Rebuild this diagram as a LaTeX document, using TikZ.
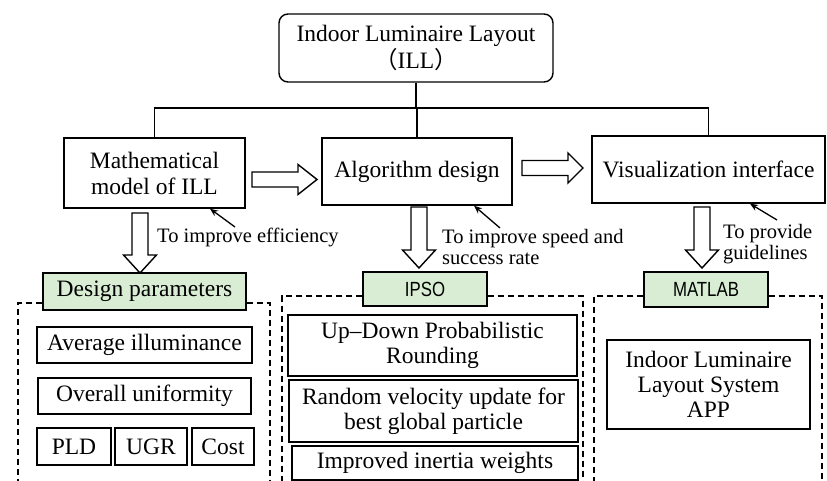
\documentclass[tikz,border=0pt]{standalone}
\usepackage{fontspec}
\setmainfont{Liberation Serif}
\newfontfamily\narrowsans[FakeStretch=0.82]{Liberation Sans}
\newfontfamily\cjkfont{Noto Sans CJK SC}
\usetikzlibrary{arrows.meta,calc}
\definecolor{paleGreen}{RGB}{217,237,212}
\newcommand\blockRight[4]{% x0, xhead, xtip, y
  \draw[blockarrow] (#1,#4-7.5) -- (#2,#4-7.5) -- (#2,#4-15) -- (#3,#4) -- (#2,#4+15) -- (#2,#4+7.5) -- (#1,#4+7.5) -- cycle;}
\newcommand\blockDown[4]{% cx, y0, yhead, ytip
  \draw[blockarrow] (#1-8,#2) -- (#1+8,#2) -- (#1+8,#3) -- (#1+16.5,#3) -- (#1,#4) -- (#1-16.5,#3) -- (#1-8,#3) -- cycle;}
\begin{document}
\begin{tikzpicture}[x=1pt,y=-1pt,
  box/.style={draw,line width=1.4pt,inner sep=0pt,align=center,
    font=\fontsize{23.5}{25}\selectfont},
  greenbox/.style={draw,fill=paleGreen,line width=1.4pt,inner sep=0pt,align=center},
  frameline/.style={dash pattern=on 6pt off 4pt,line width=1.2pt},
  blockarrow/.style={draw,fill=white,line width=1.4pt,line join=miter},
  note/.style={font=\fontsize{20.5}{21.5}\selectfont,inner sep=0pt,align=left,anchor=west},
  pointer/.style={-{Stealth[length=8pt,width=6.5pt]},line width=1.3pt},
  conn/.style={line width=1.3pt}
]
\useasboundingbox (0,0) rectangle (827,481);

% top
\node[box,rounded corners=9pt,minimum width=274pt,minimum height=68pt,
  font=\fontsize{23.5}{27}\selectfont] (top) at (416,48)
  {Indoor Luminaire Layout\\{\cjkfont （}ILL{\cjkfont ）}};

% second level
\node[box,minimum width=181pt,minimum height=70pt,font=\fontsize{23.5}{26}\selectfont] (math) at (154.5,173) {Mathematical\\model of ILL};
\node[box,minimum width=190pt,minimum height=67pt] (algo) at (417,171.5) {Algorithm design};
\node[box,minimum width=233pt,minimum height=67pt] (vis) at (708.5,169.5) {Visualization interface};

\coordinate (junc) at (416,108);
\draw[conn] (top.south) -- (junc);
\draw[conn] (math.north) -- (math.north |- junc) -- (vis.north |- junc) -- (vis.north);
\draw[conn] (algo.north) -- (algo.north |- junc);

% block arrows
\blockRight{252}{298}{317}{179.5}
\blockRight{522}{568}{583}{168}
\blockDown{140}{213}{255}{273}
\blockDown{419}{207}{250}{268}
\blockDown{702}{207}{250}{268}

% annotations
\coordinate (p1) at (235,227);
\coordinate (p2) at (500,228);
\coordinate (p3) at (777,220);
\draw[pointer] (p1) -- (math.south east -| 210,0);
\draw[pointer] (p2) -- (algo.south -| 474,0);
\draw[pointer] (p3) -- (vis.south -| 750,0);
\node[note] (n1) at (157,237) {To improve efficiency};
\node[note] (n2) at (442,247) {To improve speed and\\success rate};
\node[note] (n3) at (723,244) {To provide\\guidelines};

% green headers
\node[greenbox,minimum width=203pt,minimum height=37pt,font=\fontsize{23.5}{25}\selectfont] (dp) at (144.5,291.5) {Design parameters};
\node[greenbox,minimum width=124pt,minimum height=34pt,font=\narrowsans\fontsize{20.5}{22}\selectfont] (ipso) at (425,289) {IPSO};
\node[greenbox,minimum width=124pt,minimum height=35pt,font=\narrowsans\fontsize{20.5}{22}\selectfont] (matlab) at (706,289.5) {MATLAB};

% dashed frames
\draw[frameline] (dp.west |- 0,303) -- (18,303) -- (18,481);
\draw[frameline] (dp.east |- 0,303) -- (270,303) -- (270,481);
\draw[frameline] (ipso.west |- 0,296) -- (282,296) -- (282,481);
\draw[frameline] (ipso.east |- 0,296) -- (583,296) -- (583,481);
\draw[frameline] (matlab.west |- 0,296) -- (594,296) -- (594,481);
\draw[frameline] (matlab.east |- 0,296) -- (822,296) -- (822,481);

% inner boxes
\node[box,minimum width=215pt,minimum height=36pt] (avg) at (144.5,345) {Average illuminance};
\node[box,minimum width=213pt,minimum height=36pt] (uni) at (144.5,396) {Overall uniformity};
\node[box,minimum width=74pt,minimum height=37pt] (pld) at (74,446.5) {PLD};
\node[box,minimum width=72pt,minimum height=37pt] (ugr) at (151,446.5) {UGR};
\node[box,minimum width=62pt,minimum height=37pt] (cost) at (223,446.5) {Cost};

\node[box,minimum width=289pt,minimum height=61pt] (updown) at (432.5,345.5) {Up--Down Probabilistic\\Rounding};
\node[box,minimum width=289pt,minimum height=62pt] (rand) at (433.5,411) {Random velocity update for\\best global particle};
\node[box,minimum width=286pt,minimum height=34pt] (inertia) at (435,463) {Improved inertia weights};

\node[box,minimum width=203pt,minimum height=89pt] (app) at (708.5,384.5) {Indoor Luminaire\\Layout System\\APP};
\end{tikzpicture}
\end{document}
